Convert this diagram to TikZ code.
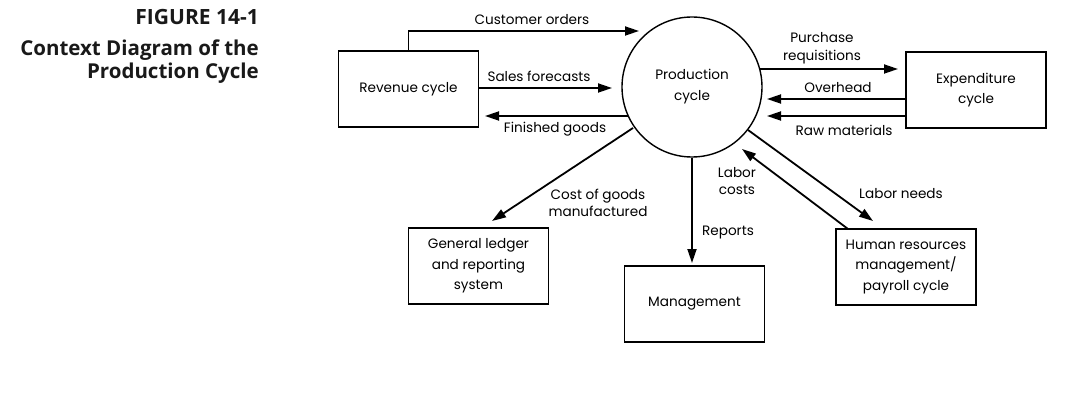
\documentclass[tikz,border=0pt]{standalone}
\usepackage{fontspec}
\setmainfont{Poppins}
\newfontfamily\titlefont{Open Sans}
\usetikzlibrary{arrows.meta}
\begin{document}
\begin{tikzpicture}[x=1pt,y=-1pt,
  box/.style={draw, line width=1.4pt, minimum width=140pt, minimum height=76pt, inner sep=0pt, align=center, font=\fontsize{13.6}{20.5}\selectfont},
  proc/.style={draw, circle, line width=1.4pt, minimum size=140pt, inner sep=0pt, align=center, font=\fontsize{13.6}{21}\selectfont},
  flow/.style={line width=1.8pt, -{Triangle[length=14pt,width=9pt]}},
  lbl/.style={inner sep=0pt, align=center, font=\fontsize{13.6}{17.5}\selectfont},
  ttl/.style={inner sep=0pt, anchor=east, align=right, text=black!90}]
\useasboundingbox (0,0) rectangle (1088,401);
% title
\node[ttl, font=\titlefont\bfseries\fontsize{21}{21}\selectfont] (fig) at (259,17.5) {FIGURE 14-1};
\node[ttl, font=\titlefont\bfseries\fontsize{20.5}{23}\selectfont] (cap) at (259,62) {Context Diagram of the\\Production Cycle};
% nodes
\node[box] (rev) at (408.5,89) {Revenue cycle};
\node[proc] (prod) at (692,87) {Production\\cycle};
\node[box] (exp) at (976,90) {Expenditure\\cycle};
\node[box] (gl) at (478.5,266) {General ledger\\and reporting\\system};
\node[box] (mgmt) at (694.5,304) {Management};
\node[box] (hr) at (906,267) {Human resources\\management/\\payroll cycle};
% free ends
\coordinate (coE) at (639,31);
\coordinate (sfE) at (612,88);
\coordinate (fgS) at (628,116);
\coordinate (fgE) at (485,116);
\coordinate (prS) at (760,69);
\coordinate (prE) at (898,69);
\coordinate (ohS) at (906,99);
\coordinate (ohE) at (767,99);
\coordinate (rmS) at (906,116);
\coordinate (rmE) at (767,116);
\coordinate (cgS) at (633,128);
\coordinate (cgE) at (492,221);
\coordinate (lnS) at (748,130);
\coordinate (lnE) at (873,221);
\coordinate (lcS) at (848,229);
\coordinate (lcE) at (742,149);
\coordinate (rpE) at (692,263);
% connectors
\draw[flow] (rev.north) |- (coE);
\draw[flow] (rev.east |- sfE) -- (sfE);
\draw[flow] (fgS) -- (fgE);
\draw[flow] (prS) -- (prE);
\draw[flow] (ohS) -- (ohE);
\draw[flow] (rmS) -- (rmE);
\draw[flow] (cgS) -- (cgE);
\draw[flow] (lnS) -- (lnE);
\draw[flow] (lcS) -- (lcE);
\draw[flow] (prod.south) -- (rpE);
% labels
\node[lbl] (lco) at (532,20) {Customer orders};
\node[lbl] (lsf) at (539,76) {Sales forecasts};
\node[lbl] (lfg) at (555,129) {Finished goods};
\node[lbl] (lpr) at (822,48) {Purchase\\requisitions};
\node[lbl] (loh) at (838,88) {Overhead};
\node[lbl] (lrm) at (844,130) {Raw materials};
\node[lbl] (lcg) at (598,203) {Cost of goods\\manufactured};
\node[lbl] (llc) at (737,181) {Labor\\costs};
\node[lbl] (lrp) at (728,233) {Reports};
\node[lbl] (lln) at (901,194) {Labor needs};
\end{tikzpicture}
\end{document}
